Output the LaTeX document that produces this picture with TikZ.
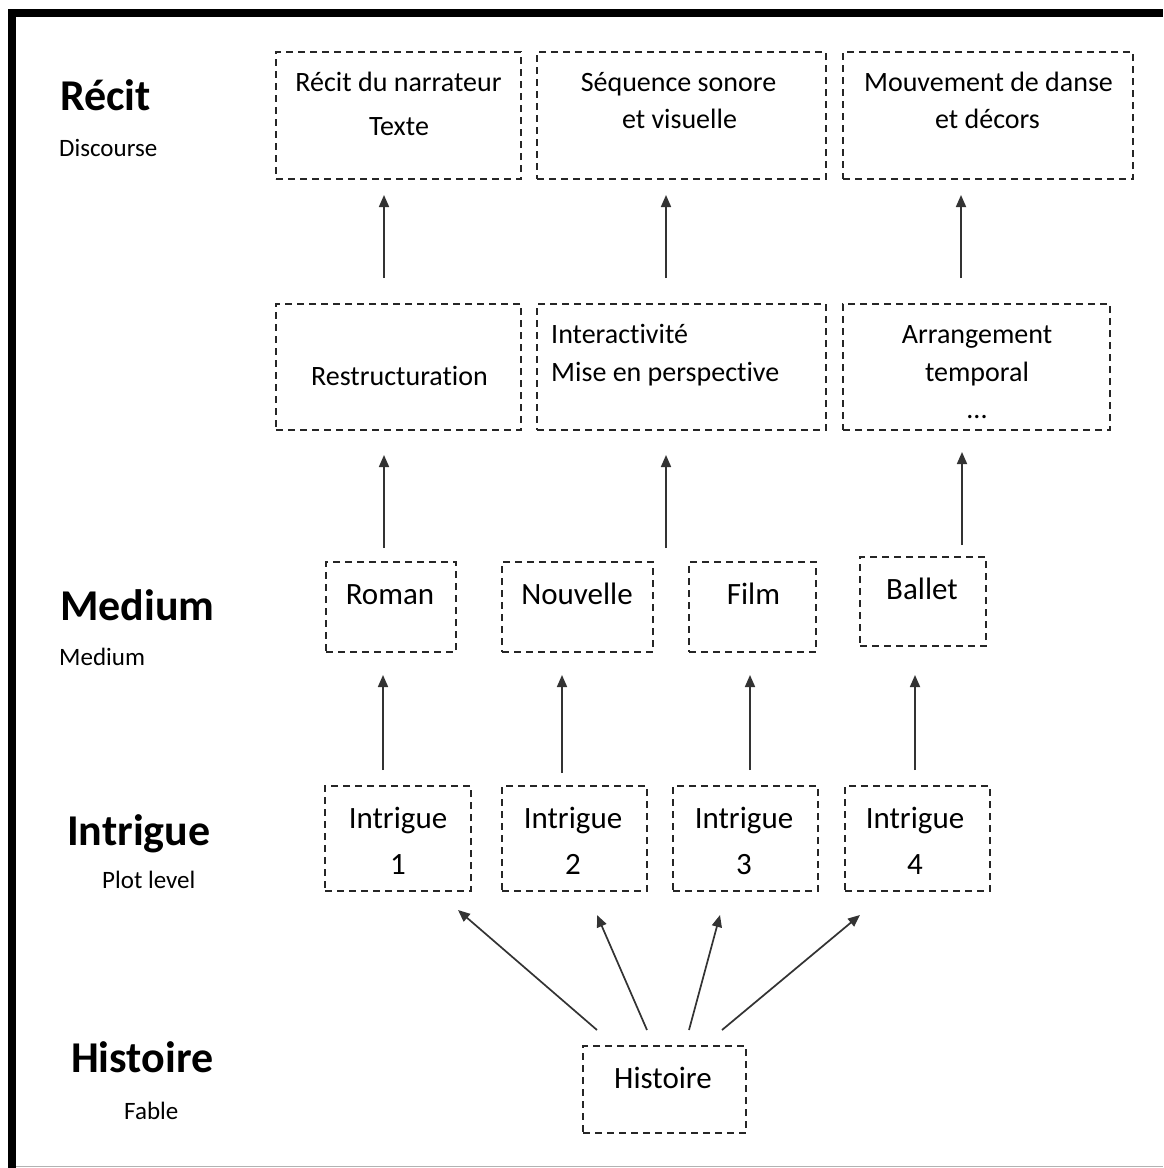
\documentclass[tikz,border=0pt]{standalone}
\usepackage{fontspec}
\setmainfont{Carlito}[Ligatures=NoCommon]
\usetikzlibrary{arrows.meta}
\begin{document}
\begin{tikzpicture}[x=1pt,y=-1pt,
  dbox/.style={draw=black!85, line width=1.8pt, dash pattern=on 7pt off 5pt, inner sep=0pt, outer sep=0pt},
  arr/.style={draw=black!80, line width=1.7pt, -{Triangle[length=12pt,width=10pt]}},
  head/.style={font=\fontsize{44}{50}\selectfont\bfseries, anchor=base west, inner sep=0pt},
  sub/.style={font=\fontsize{25}{30}\selectfont, anchor=base west, inner sep=0pt},
  tA/.style={font=\fontsize{28}{34}\selectfont, anchor=base, inner sep=0pt},
  tAl/.style={font=\fontsize{28}{34}\selectfont, anchor=base west, inner sep=0pt},
  tC/.style={font=\fontsize{31}{37}\selectfont, anchor=base, inner sep=0pt}]
\useasboundingbox (0,0) rectangle (1163,1168);
% frame
\fill[black] (8,9) rectangle (1163,17);
\fill[black] (8,9) rectangle (16,1168);
\draw[gray!60, line width=1.5pt] (16,1166.5) -- (1163,1166.5);

% level labels
\node[head] (hR) at (60,110) {Récit};
\node[sub] (sR) at (59,156) {Discourse};
\node[head] (hM) at (60,620) {Medium};
\node[sub] (sM) at (59,665) {Medium};
\node[head] (hI) at (67,845) {Intrigue};
\node[sub] (sI) at (102,888) {Plot level};
\node[head] (hH) at (71,1072) {Histoire};
\node[sub] (sH) at (124,1119) {Fable};

% row A
\node[dbox, minimum width=245pt, minimum height=127pt] (A1) at (398.5,115.5) {};
\node[dbox, minimum width=289pt, minimum height=127pt] (A2) at (681.5,115.5) {};
\node[dbox, minimum width=290pt, minimum height=127pt] (A3) at (988,115.5) {};
\node[tA] (a1a) at (398.5,91) {Récit du narrateur};
\node[tA] (a1b) at (399,135) {Texte};
\node[tA] (a2a) at (678.5,91) {Séquence sonore};
\node[tA] (a2b) at (679.5,128) {et visuelle};
\node[tA] (a3a) at (988.5,91) {Mouvement de danse};
\node[tA] (a3b) at (987.5,128) {et décors};

% row B
\node[dbox, minimum width=245pt, minimum height=126pt] (B1) at (398.5,367) {};
\node[dbox, minimum width=289pt, minimum height=126pt] (B2) at (681.5,367) {};
\node[dbox, minimum width=267pt, minimum height=126pt] (B3) at (976.5,367) {};
\node[tA] (b1a) at (399.5,385) {Restructuration};
\node[tAl] (b2a) at (551,343) {Interactivité};
\node[tAl] (b2b) at (551,381) {Mise en perspective};
\node[tA] (b3a) at (977,343) {Arrangement};
\node[tA] (b3b) at (977,381) {temporal};
\node[tA] (b3c) at (977,418) {...};

% row C
\node[dbox, minimum width=130pt, minimum height=90pt] (C1) at (391,607) {};
\node[dbox, minimum width=151pt, minimum height=90pt] (C2) at (577.5,607) {};
\node[dbox, minimum width=127pt, minimum height=90pt] (C3) at (752.5,607) {};
\node[dbox, minimum width=126pt, minimum height=89pt] (C4) at (923,601.5) {};
\node[tC] (c1) at (390,604) {Roman};
\node[tC] (c2) at (577,604) {Nouvelle};
\node[tC] (c3) at (753.5,604) {Film};
\node[tC] (c4) at (922,599) {Ballet};

% row D
\node[dbox, minimum width=146pt, minimum height=105pt] (D1) at (398,838.5) {};
\node[dbox, minimum width=145pt, minimum height=105pt] (D2) at (574.5,838.5) {};
\node[dbox, minimum width=145pt, minimum height=105pt] (D3) at (745.5,838.5) {};
\node[dbox, minimum width=145pt, minimum height=105pt] (D4) at (917.5,838.5) {};
\node[tC] (d1a) at (398,828) {Intrigue};
\node[tC] (d1b) at (398,874) {1};
\node[tC] (d2a) at (573,828) {Intrigue};
\node[tC] (d2b) at (573,874) {2};
\node[tC] (d3a) at (744,828) {Intrigue};
\node[tC] (d3b) at (744,874) {3};
\node[tC] (d4a) at (915,828) {Intrigue};
\node[tC] (d4b) at (915,874) {4};

% row E
\node[dbox, minimum width=163pt, minimum height=87pt] (E) at (664.5,1089.5) {};
\node[tC] (e1) at (663,1088) {Histoire};

% arrows B -> A
\coordinate (p1) at ([xshift=-14.5pt]B1.north);
\coordinate (p2) at ([xshift=-15.5pt]B2.north);
\coordinate (p3) at ([xshift=-15.5pt]B3.north);
\draw[arr, shorten <=26pt, shorten >=16pt] (p1) -- (p1 |- A1.south);
\draw[arr, shorten <=26pt, shorten >=16pt] (p2) -- (p2 |- A2.south);
\draw[arr, shorten <=26pt, shorten >=16pt] (p3) -- (p3 |- A3.south);

% arrows C -> B
\coordinate (q1) at ([xshift=-7pt]C1.north);
\coordinate (q2) at ([xshift=-15.5pt,yshift=-118pt]B2.south);
\coordinate (q3) at ([xshift=39pt]C4.north);
\draw[arr, shorten <=14pt, shorten >=25pt] (q1) -- (q1 |- B1.south);
\draw[arr, shorten >=25pt] (q2) -- (q2 |- B2.south);
\draw[arr, shorten <=12pt, shorten >=22pt] (q3) -- (q3 |- B3.south);

% arrows D -> C
\coordinate (r1) at ([xshift=-15pt]D1.north);
\coordinate (r2) at ([xshift=-12.5pt]D2.north);
\coordinate (r3) at ([xshift=4.5pt]D3.north);
\coordinate (r4) at ([xshift=-2.5pt]D4.north);
\draw[arr, shorten <=16pt, shorten >=23pt] (r1) -- (r1 |- C1.south);
\draw[arr, shorten <=13pt, shorten >=23pt] (r2) -- (r2 |- C2.south);
\draw[arr, shorten <=16pt, shorten >=23pt] (r3) -- (r3 |- C3.south);
\draw[arr, shorten <=16pt, shorten >=29pt] (r4) -- (r4 |- C4.south);

% arrows E -> D
\draw[arr] ([xshift=-67.5pt,yshift=16pt]E.north) -- ([xshift=60pt,yshift=-19pt]D1.south);
\draw[arr] ([xshift=-17.5pt,yshift=16pt]E.north) -- ([xshift=22.5pt,yshift=-24pt]D2.south);
\draw[arr] ([xshift=24.5pt,yshift=16pt]E.north) -- ([xshift=-25.5pt,yshift=-24pt]D3.south);
\draw[arr] ([xshift=57.5pt,yshift=16pt]E.north) -- ([xshift=-57.5pt,yshift=-24pt]D4.south);
\end{tikzpicture}
\end{document}
